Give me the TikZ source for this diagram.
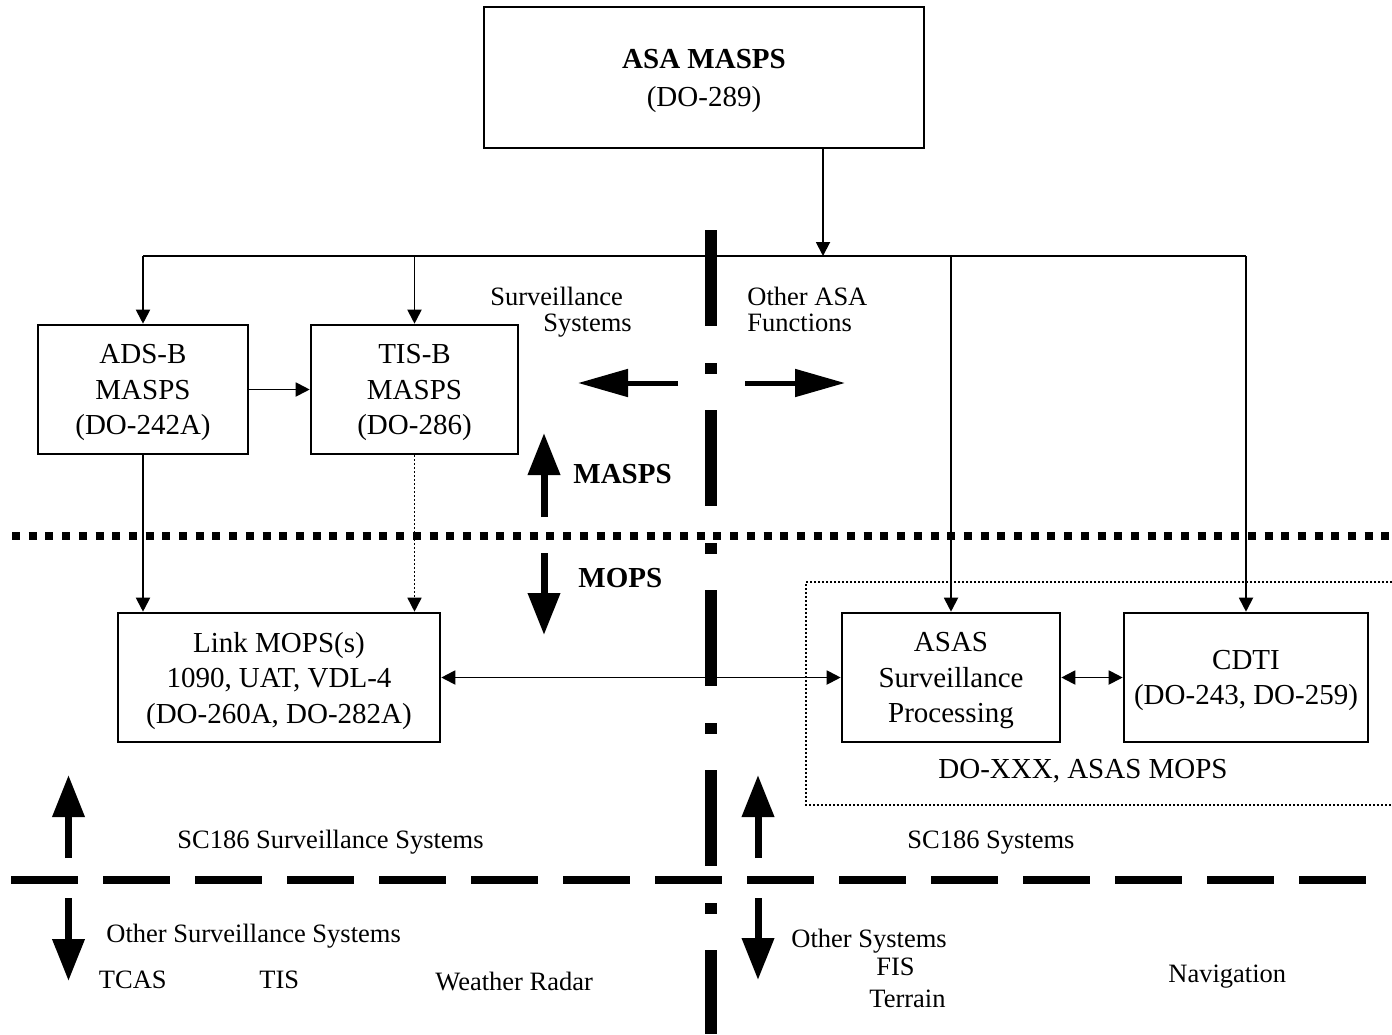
\documentclass[tikz,border=0pt]{standalone}
\usepackage{fontspec}
\setmainfont{Liberation Serif}
\usetikzlibrary{arrows.meta}
\newcommand\boxfont{\fontsize{14.5}{17.75}\selectfont}
\newcommand\asafont{\fontsize{14.5}{19}\selectfont}
\newcommand\labfont{\fontsize{13.25}{16}\selectfont}
\tikzset{
  blk/.style={draw, line width=1.3pt, inner sep=0pt, align=center, font=\boxfont, minimum height=64.5pt, text depth=-1.6pt},
  conn/.style={line width=0.95pt},
  tip/.style={-{Triangle[length=7pt,width=7pt]}},
  dtip/.style={{Triangle[length=7pt,width=7pt]}-{Triangle[length=7pt,width=7pt]}},
  thindot/.style={line width=0.8pt, dash pattern=on 0.8pt off 1.2pt},
  lab/.style={anchor=base west, inner sep=0pt, font=\labfont},
  boldlab/.style={anchor=base west, inner sep=0pt, font=\boxfont\bfseries},
  bigv/.style={line width=3.5pt, -{Triangle[length=21pt,width=15.5pt]}},
  bigh/.style={line width=2.5pt, -{Triangle[length=25pt,width=13.5pt]}}
}
\begin{document}
\begin{tikzpicture}[x=0.5pt,y=-0.5pt]
\useasboundingbox (0,0) rectangle (1392,1034);

% boxes
\node[blk, font=\asafont, minimum width=220pt, minimum height=70.5pt, text depth=-3pt] (asa) at (704,77.5) {\textbf{ASA MASPS}\\(DO-289)};
\node[blk, minimum width=105pt] (adsb) at (143,389.5) {ADS-B\\MASPS\\(DO-242A)};
\node[blk, minimum width=103.5pt] (tisb) at (414.5,389.5) {TIS-B\\MASPS\\(DO-286)};
\node[blk, minimum width=161pt] (link) at (279,677.5) {Link MOPS(s)\\1090, UAT, VDL-4\\(DO-260A, DO-282A)};
\node[blk, minimum width=109pt] (asas) at (951,677.5) {ASAS\\Surveillance\\Processing};
\node[blk, minimum width=122pt, text depth=-2.5pt] (cdti) at (1246,677.5) {CDTI\\(DO-243, DO-259)};

% dotted group box
\coordinate (gtr) at (1392,582);
\coordinate (gtl) at (806,582);
\coordinate (gbl) at (806,805);
\coordinate (gbr) at (1392,805);
\draw[thindot] (gtr) -- (gtl) -- (gbl) -- (gbr);
\node[anchor=base west, inner sep=0pt, font=\boxfont] (doxxx) at (938,778) {DO-XXX, ASAS MOPS};

% connectors
\coordinate (j) at (823,256);
\draw[conn,tip] (asa.south -| j) -- (j);
\draw[conn] (adsb.north |- j) -- (cdti.north |- j);
\draw[conn,tip] (adsb.north |- j) -- (adsb.north);
\draw[conn,tip] (tisb.north |- j) -- (tisb.north);
\draw[conn,tip] (asas.north |- j) -- (asas.north);
\draw[conn,tip] (cdti.north |- j) -- (cdti.north);
\draw[conn,tip] (adsb.east) -- (tisb.west);
\draw[conn,tip] (adsb.south) -- (link.north -| adsb.south);
\draw[thindot,tip] (tisb.south) -- (link.north -| tisb.south);
\draw[conn,dtip] (link.east) -- (asas.west);
\draw[conn,dtip] (asas.east) -- (cdti.west);

% separator lines
\coordinate (vtop) at (711,230);
\coordinate (vbot) at (711,1034);
\draw[line width=6pt, dash pattern=on 48pt off 18.5pt on 5.5pt off 18pt] (vtop) -- (vbot);
\coordinate (dl) at (12,536);
\coordinate (dr) at (1392,536);
\draw[line width=3.6pt, dash pattern=on 4pt off 4.35pt] (dl) -- (dr);
\coordinate (el) at (11,880);
\coordinate (er) at (1367,880);
\draw[line width=3.8pt, dash pattern=on 33.5pt off 12.5pt] (el) -- (er);

% big arrows
\coordinate (hl0) at (678,383); \coordinate (hl1) at (578,383);
\coordinate (hr0) at (745,383); \coordinate (hr1) at (845,383);
\draw[bigh] (hl0) -- (hl1);
\draw[bigh] (hr0) -- (hr1);
\coordinate (mu0) at (544,517); \coordinate (mu1) at (544,433);
\coordinate (md0) at (544,553); \coordinate (md1) at (544,635);
\draw[bigv] (mu0) -- (mu1);
\draw[bigv] (md0) -- (md1);
\coordinate (lu0) at (68.5,858); \coordinate (lu1) at (68.5,775);
\coordinate (ld0) at (68.5,898); \coordinate (ld1) at (68.5,981);
\draw[bigv] (lu0) -- (lu1);
\draw[bigv] (ld0) -- (ld1);
\coordinate (ru0) at (758,858); \coordinate (ru1) at (758,775);
\coordinate (rd0) at (758,898); \coordinate (rd1) at (758,980);
\draw[bigv] (ru0) -- (ru1);
\draw[bigv] (rd0) -- (rd1);

% labels
\node[lab] (survl) at (490,305) {Surveillance};
\node[lab] (sysl) at (543,331) {Systems};
\node[lab] (oasa) at (747,305) {Other ASA};
\node[lab] (func) at (747,331) {Functions};
\node[boldlab] (masps) at (573,483) {MASPS};
\node[boldlab] (mops) at (578,587) {MOPS};
\node[lab] (sc186s) at (177,848) {SC186 Surveillance Systems};
\node[lab] (sc186) at (907,848) {SC186 Systems};
\node[lab] (oss) at (106,942) {Other Surveillance Systems};
\node[lab] (tcas) at (98.5,988) {TCAS};
\node[lab] (tis) at (259,988) {TIS};
\node[lab] (wr) at (435,990) {Weather Radar};
\node[lab] (os) at (791,947) {Other Systems};
\node[lab] (fis) at (876,975) {FIS};
\node[lab] (terr) at (869,1007) {Terrain};
\node[lab] (nav) at (1168,982) {Navigation};
\end{tikzpicture}
\end{document}
